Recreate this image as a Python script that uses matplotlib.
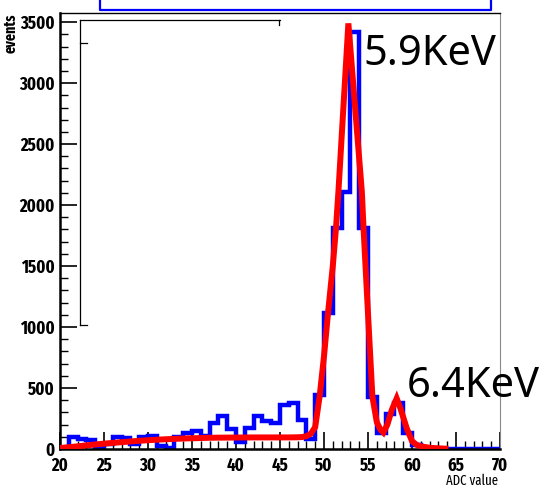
import numpy as np
import matplotlib
matplotlib.use("Agg")
import matplotlib.pyplot as plt
from matplotlib.lines import Line2D
from matplotlib import font_manager

# histogram: ADC bins 20..70, width 1
bin_edges = np.arange(20, 71)
counts = [10, 95, 85, 70, 15, 40, 100, 90, 45, 95,
          110, 25, 10, 100, 135, 145, 105, 210, 270, 165,
          55, 175, 270, 230, 215, 360, 375, 235, 80, 440,
          1115, 1815, 2105, 3420, 1815, 425, 130, 285, 375, 130,
          35, 10, 5, 1, 1, 1, 1, 1, 1, 1]

# fit curve
fit_x = [20, 21, 22, 23, 24, 25, 26, 27, 28, 29, 30, 31, 32, 33, 34, 35, 36, 37, 38,
         40, 42, 44, 46, 47, 47.5, 48, 48.5, 49, 49.5, 50, 50.45, 51, 51.36, 51.63,
         52.77, 54.3, 54.5, 55, 55.5, 56, 56.4, 56.75, 57.2, 57.7, 58.26, 58.7,
         59.4, 60, 60.5, 61, 62, 63, 63.8]
fit_y = [8, 15, 22, 30, 37, 44, 50, 56, 62, 67, 72, 76, 80, 83, 86, 88, 90, 92, 93,
         94, 95, 95, 95, 96, 98, 105, 125, 180, 430, 760, 1110, 1500, 1810, 2100,
         3490, 2110, 1800, 1110, 430, 220, 160, 135, 200, 320, 415, 330,
         170, 65, 35, 22, 10, 5, 3]

peak_labels = ["5.9KeV", "6.4KeV"]

COND = ["Fira Sans Extra Condensed", "Roboto Condensed", "DejaVu Sans"]

W, H = 543, 488
fig = plt.figure(figsize=(W / 100, H / 100), dpi=100)
ax = fig.add_axes([60 / W, 39 / H, 440 / W, 436 / H])

ax.stairs(counts, bin_edges, color="#0000ff", lw=3.2, zorder=2)
ax.plot(fit_x, fit_y, color="#ff0000", lw=4.3, solid_joinstyle="miter", zorder=3)

ax.set_xlim(20, 70)
ax.set_ylim(0, 3575)
ax.set_xticks(range(20, 71, 5))
ax.set_xticks(range(20, 71, 1), minor=True)
ax.set_yticks(range(0, 3501, 500))
ax.set_yticks(range(0, 3501, 100), minor=True)
ax.tick_params(which="major", direction="in", length=12, width=1.2)
ax.tick_params(which="minor", direction="in", length=6, width=1.0)
ax.tick_params(axis="x", which="major", pad=5.5)
ax.tick_params(axis="y", which="major", pad=4)
ax.tick_params(top=False, right=False, which="both")

tick_fp = font_manager.FontProperties(family=COND, weight="bold", size=13)
for lab in ax.get_xticklabels() + ax.get_yticklabels():
    lab.set_fontproperties(tick_fp)

for s in ["left", "bottom"]:
    ax.spines[s].set_linewidth(1.8)
ax.spines["top"].set_linewidth(1.0)
ax.spines["right"].set_linewidth(0.8)
ax.spines["right"].set_color("#888888")

fig.text(498 / W, 1 - 488 / H, "ADC value", ha="right", va="bottom",
         family=COND, size=10)
fig.text(11 / W, 1 - 14 / H, "events", ha="center", va="top", rotation=90,
         family=COND, weight="bold", size=11)

fig.text(363 / W, 1 - 65 / H, peak_labels[0], ha="left", va="baseline",
         family="Noto Sans", size=30)
fig.text(407 / W, 1 - 397 / H, peak_labels[1], ha="left", va="baseline",
         family="Noto Sans", size=30)

# leftover stat box outline and title box
def px_line(xs, ys, **kw):
    fig.add_artist(Line2D([x / W for x in xs], [1 - y / H for y in ys],
                          transform=fig.transFigure, **kw))

px_line([80, 80], [20, 325], color="black", lw=0.9)
px_line([80, 280], [20, 20], color="black", lw=0.9)
px_line([80, 87], [43, 43], color="black", lw=0.9)
px_line([80, 87], [325, 325], color="black", lw=0.9)
px_line([279, 279], [20, 25], color="black", lw=0.9)
px_line([100, 100, 491, 491], [0, 10, 10, 0], color="#0000ff", lw=1.6)

fig.savefig("out.png", dpi=100)
